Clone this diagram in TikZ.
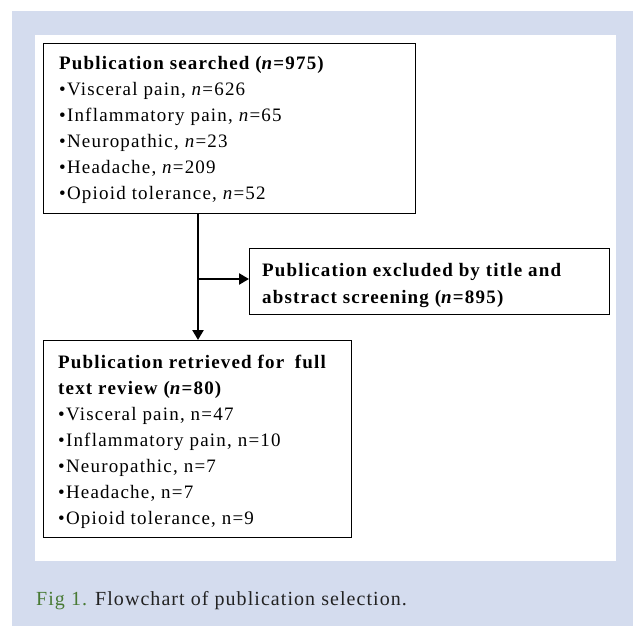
\documentclass[tikz,border=0pt]{standalone}
\usepackage{fontspec}
\setmainfont{Liberation Serif}
\usetikzlibrary{arrows.meta}
\definecolor{bgblue}{RGB}{212,220,238}
\definecolor{figgreen}{RGB}{72,122,52}
\definecolor{captext}{RGB}{34,34,34}
\newcommand{\bt}[1]{{\bfseries\addfontfeatures{LetterSpace=6.2}#1}}
\begin{document}
\begin{tikzpicture}[x=1pt,y=-1pt,
  box/.style={draw=black, line width=1.3pt, fill=white, inner sep=0pt, anchor=north west},
  txt/.style={anchor=north west, inner sep=0pt, align=left, font=\fontsize{19}{26}\selectfont\addfontfeatures{LetterSpace=6.3}},
  conn/.style={line width=2.6pt, -{Triangle[length=10pt,width=11pt]}},
  ]
\useasboundingbox (0,0) rectangle (633,626);
\fill[white] (0,0) rectangle (633,626);
\fill[bgblue] (12,11) rectangle (633,626);
\fill[white] (35,35) rectangle (616,561);

\node[box, minimum width=372pt, minimum height=170pt] (b1) at (43,43) {};
\node[box, minimum width=360pt, minimum height=66pt] (b2) at (249,248) {};
\node[box, minimum width=308pt, minimum height=197pt] (b3) at (43,340) {};

\node[txt] (t1) at (59,56) {\bt{Publication searched (\textit{n}=975)}\\
•Visceral pain, \textit{n}=626\\
•Inflammatory pain, \textit{n}=65\\
•Neuropathic, \textit{n}=23\\
•Headache, \textit{n}=209\\
•Opioid tolerance, \textit{n}=52};

\node[txt, font=\fontsize{19}{27}\selectfont] (t2) at (262,263) {\bt{Publication excluded by title and}\\
\bt{abstract screening (\textit{n}=895)}};

\node[txt] (t3) at (58,355) {\bt{Publication retrieved for\hspace{0.25em} full}\\
\bt{text review (\textit{n}=80)}\\
•Visceral pain, n=47\\
•Inflammatory pain, n=10\\
•Neuropathic, n=7\\
•Headache, n=7\\
•Opioid tolerance, n=9};

\coordinate (j) at (198,279);
\draw[conn] (j |- b1.south) -- (j |- b3.north);
\draw[conn] (j) -- (j -| b2.west);

\node[anchor=base west, inner sep=0pt, font=\fontsize{20}{24}\selectfont\addfontfeatures{LetterSpace=5.3}] (cap) at (36,605)
  {\textcolor{figgreen}{Fig 1.} \textcolor{captext}{Flowchart of publication selection.}};
\end{tikzpicture}
\end{document}
